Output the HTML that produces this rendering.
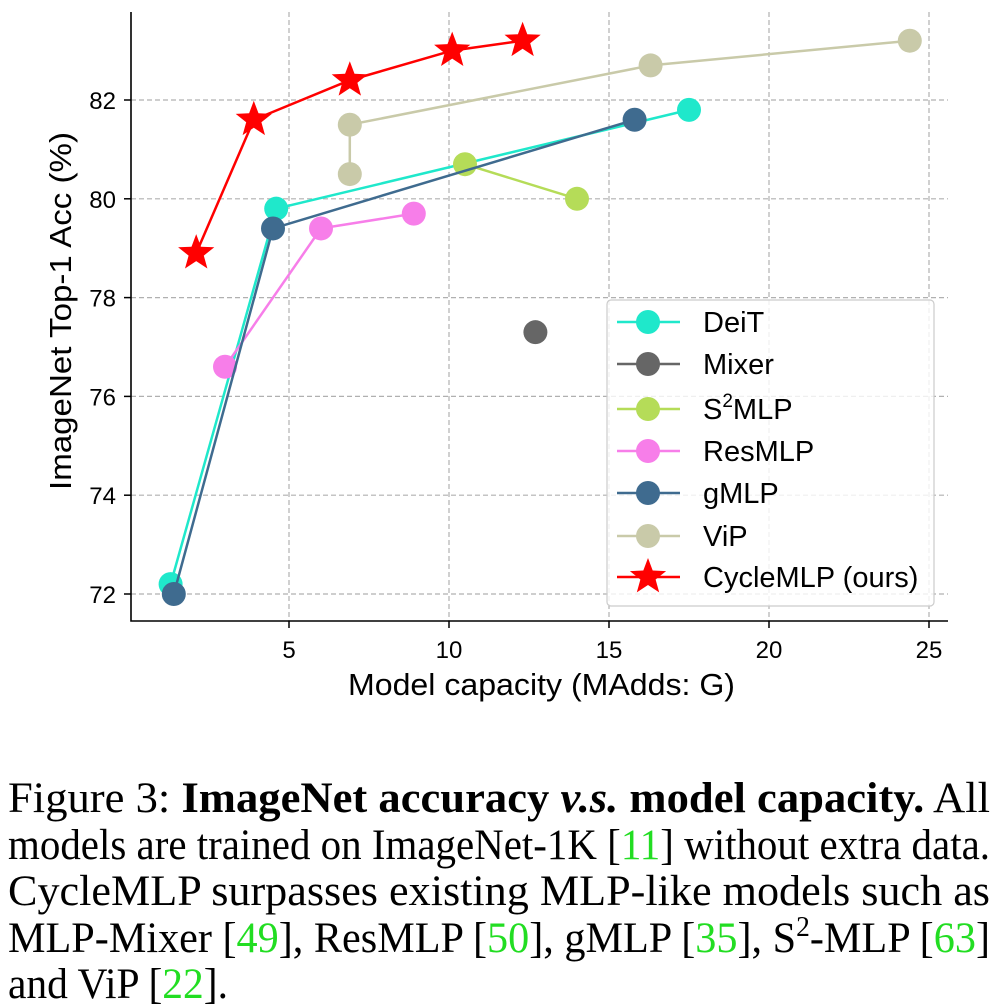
<!DOCTYPE html>
<html><head><meta charset="utf-8"><style>
body{margin:0;background:#fff;}
svg{display:block;}
</style></head><body>
<svg id="chart" width="1000" height="1008" viewBox="0 0 1000 1008" xmlns="http://www.w3.org/2000/svg" font-family="'Liberation Sans', sans-serif">
<g id="grid"></g>
<g id="series"></g>
<g id="axes"></g>
<text x="348" y="695" font-size="31" textLength="387" lengthAdjust="spacingAndGlyphs">Model capacity (MAdds: G)</text>
<text transform="translate(71,311) rotate(-90)" font-size="31" text-anchor="middle" textLength="358" lengthAdjust="spacingAndGlyphs">ImageNet Top-1 Acc (%)</text>
<g id="legend"></g>
<g font-family="'Liberation Serif', serif" font-size="43" fill="#000">
<text x="8" y="812" textLength="982" lengthAdjust="spacingAndGlyphs">Figure 3:  <tspan font-weight="bold">ImageNet accuracy <tspan font-style="italic">v.s.</tspan>  model capacity.</tspan>  All</text>
<text x="8" y="859" textLength="982" lengthAdjust="spacingAndGlyphs">models are trained on ImageNet-1K [<tspan fill="#22dd22">11</tspan>] without extra data.</text>
<text x="8" y="905" textLength="982" lengthAdjust="spacingAndGlyphs">CycleMLP  surpasses  existing  MLP-like  models  such  as</text>
<text x="8" y="952" textLength="982" lengthAdjust="spacingAndGlyphs">MLP-Mixer [<tspan fill="#22dd22">49</tspan>], ResMLP [<tspan fill="#22dd22">50</tspan>], gMLP [<tspan fill="#22dd22">35</tspan>], S<tspan dy="-16" font-size="28">2</tspan><tspan dy="16">-MLP [</tspan><tspan fill="#22dd22">63</tspan>]</text>
<text x="8" y="998" textLength="220" lengthAdjust="spacingAndGlyphs">and ViP [<tspan fill="#22dd22">22</tspan>].</text>
</g>
</svg>
<script>
const xTicks=[5,10,15,20,25];
const yTicks=[72,74,76,78,80,82];
const seriesNames=["DeiT","Mixer","S2MLP","ResMLP","gMLP","ViP","CycleMLP"];
const deitX=[1.3,4.6,17.5], deitY=[72.2,79.8,81.8];
const mixerX=[12.7], mixerY=[77.3];
const s2mlpX=[10.5,14.0], s2mlpY=[80.7,80.0];
const resmlpX=[3.0,6.0,8.9], resmlpY=[76.6,79.4,79.7];
const gmlpX=[1.4,4.5,15.8], gmlpY=[72.0,79.4,81.6];
const vipX=[6.9,6.9,16.3,24.4], vipY=[80.5,81.5,82.7,83.2];
const cycleX=[2.1,3.9,6.9,10.1,12.3], cycleY=[78.9,81.6,82.4,83.0,83.2];

const NS="http://www.w3.org/2000/svg";
const L=131,R=948,T=12,B=621;
const xs=v=>129+32*v;
const ys=v=>100+(82-v)*49.4;
function mk(tag,attrs,parent){const e=document.createElementNS(NS,tag);for(const k in attrs)e.setAttribute(k,attrs[k]);parent.appendChild(e);return e;}
const grid=document.getElementById('grid'),axes=document.getElementById('axes'),ser=document.getElementById('series'),leg=document.getElementById('legend');
xTicks.forEach(t=>{
 const g=mk('line',{x1:xs(t),x2:xs(t),y1:T,y2:B,stroke:'#b0b0b0','stroke-width':1.2,'stroke-dasharray':'5,3'},grid);
 
 
 const k=mk('line',{x1:xs(t),x2:xs(t),y1:B,y2:B+7,stroke:'#000','stroke-width':1.5},axes);
 
 
 const tx=mk('text',{x:xs(t),y:B+37,'font-size':24,'text-anchor':'middle'},axes);tx.textContent=t;
 
 
});
yTicks.forEach(t=>{
 const g=mk('line',{x1:L,x2:R,y1:ys(t),y2:ys(t),stroke:'#b0b0b0','stroke-width':1.2,'stroke-dasharray':'5,3'},grid);
 
 
 const k=mk('line',{x1:L-7,x2:L,y1:ys(t),y2:ys(t),stroke:'#000','stroke-width':1.5},axes);
 
 
 const tx=mk('text',{x:L-15,y:ys(t)+9,'font-size':24,'text-anchor':'end'},axes);tx.textContent=t;
 
 
});
const ax=mk('path',{d:`M${L},${T}V${B}H${R}`,fill:'none',stroke:'#000','stroke-width':1.6},axes);


function star(cx,cy,r){let p=[];for(let i=0;i<10;i++){const a=-Math.PI/2+i*Math.PI/5;const rr=i%2?r*0.42:r;p.push((cx+rr*Math.cos(a)).toFixed(1)+','+(cy+rr*Math.sin(a)).toFixed(1));}return p.join(' ');}
const all=[[deitX,deitY,'#1fe8cb','circle'],[mixerX,mixerY,'#666666','circle'],[s2mlpX,s2mlpY,'#b5dc58','circle'],[resmlpX,resmlpY,'#f77ee9','circle'],[gmlpX,gmlpY,'#3f6b8f','circle'],[vipX,vipY,'#c9caa9','circle'],[cycleX,cycleY,'#ff0000','star']];
all.forEach((s,i)=>{
 const [X,Y,c,m]=s;
 const g=mk('g',{},ser);
 
 
 const pl=mk('polyline',{points:X.map((x,j)=>xs(x)+','+ys(Y[j])).join(' '),fill:'none',stroke:c,'stroke-width':2.5},g);
 
 
 X.forEach((x,j)=>{
  let e;
  if(m==='star')e=mk('polygon',{points:star(xs(x),ys(Y[j]),19),fill:c},g);
  else e=mk('circle',{cx:xs(x),cy:ys(Y[j]),r:12,fill:c},g);
  
  
 });
 const ly=[322,364,409,451,493,536,577][i];
 const le=mk('g',{},leg);
 
 
 mk('line',{x1:617,x2:680,y1:ly,y2:ly,stroke:c,'stroke-width':2.5},le);
 if(m==='star')mk('polygon',{points:star(648,ly,19),fill:c},le);else mk('circle',{cx:648,cy:ly,r:12,fill:c},le);
 const t=mk('text',{x:703,y:ly+10,'font-size':29},le);
 if(i===2){t.innerHTML='S<tspan dy="-12" font-size="19">2</tspan><tspan dy="12">MLP</tspan>';}
 else t.textContent=i===6?'CycleMLP (ours)':seriesNames[i];
});
const box=mk('rect',{x:607,y:300,width:327,height:306,rx:4,fill:'rgba(255,255,255,0.8)',stroke:'#ccc','stroke-width':1.2},leg);


leg.insertBefore(box,leg.firstChild);
</script>
</body></html>
